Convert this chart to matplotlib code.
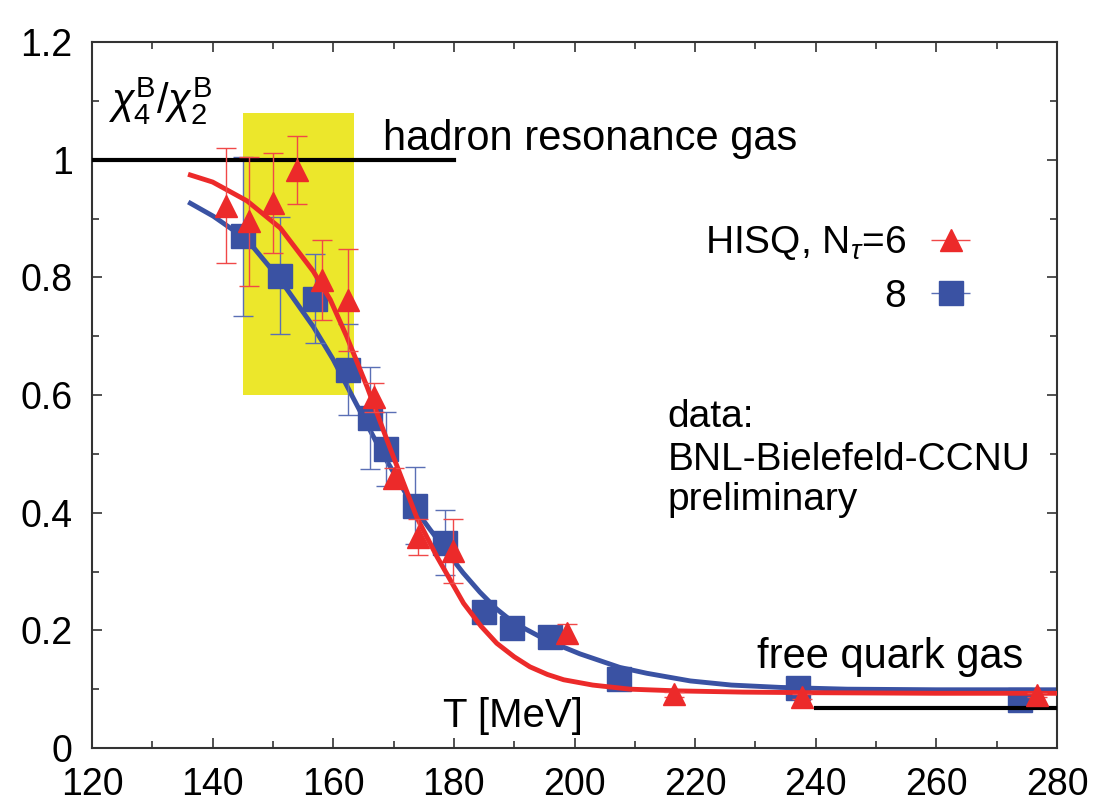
import matplotlib
matplotlib.use("Agg")
import matplotlib.pyplot as plt
import matplotlib.patches as patches

plt.rcParams['font.family'] = ['Liberation Sans', 'DejaVu Sans']
plt.rcParams['mathtext.fontset'] = 'custom'
plt.rcParams['mathtext.rm'] = 'Liberation Sans'
plt.rcParams['mathtext.it'] = 'Liberation Sans:italic'
plt.rcParams['mathtext.bf'] = 'Liberation Sans:bold'

# HISQ, N_tau = 6 (red triangles)
t6 = [142.2, 146.0, 150.0, 153.9, 158.2, 162.5, 166.7, 170.1, 174.1, 179.8,
      198.7, 216.5, 237.7, 276.7]
r6 = [0.922, 0.895, 0.927, 0.983, 0.796, 0.762, 0.596, 0.459, 0.359, 0.335,
      0.195, 0.091, 0.087, 0.090]
e6 = [0.098, 0.110, 0.085, 0.058, 0.068, 0.087, 0.025, 0.017, 0.031, 0.055,
      0.015, 0.004, 0.004, 0.004]

# N_tau = 8 (blue squares)
t8 = [145.1, 151.2, 156.9, 162.4, 166.1, 168.8, 173.6, 178.5, 185.0, 189.6,
      196.0, 207.3, 237.1, 273.9]
r8 = [0.870, 0.803, 0.764, 0.643, 0.561, 0.508, 0.412, 0.349, 0.232, 0.204,
      0.189, 0.118, 0.102, 0.082]
e8 = [0.135, 0.100, 0.075, 0.077, 0.087, 0.063, 0.065, 0.055, 0.010, 0.010,
      0.010, 0.008, 0.008, 0.008]

# fit curves
fit6_t = [136.3, 140.0, 145.7, 151.2, 156.7, 159.5, 162.2, 165.6, 169.4,
          173.8, 177.2, 181.6, 184.5, 187.1, 190.0, 192.6, 195.5, 198.2,
          203.0, 209.2, 217.5, 228.0, 239.6, 260.0, 280.0]
fit6_r = [0.974, 0.962, 0.930, 0.884, 0.810, 0.762, 0.700, 0.614, 0.510,
          0.393, 0.325, 0.246, 0.207, 0.178, 0.155, 0.138, 0.125, 0.116,
          0.107, 0.100, 0.097, 0.095, 0.094, 0.093, 0.093]
fit8_t = [136.3, 140.1, 145.7, 151.2, 156.7, 160.0, 163.3, 166.1, 167.8,
          173.3, 176.0, 178.8, 181.5, 184.3, 187.0, 189.9, 195.4, 200.9,
          207.5, 212.0, 219.2, 226.0, 234.1, 245.2, 260.0, 280.0]
fit8_r = [0.926, 0.904, 0.864, 0.796, 0.716, 0.660, 0.595, 0.540, 0.507,
          0.410, 0.372, 0.334, 0.298, 0.265, 0.237, 0.213, 0.183, 0.160,
          0.137, 0.127, 0.114, 0.107, 0.103, 0.100, 0.099, 0.099]

hrg_t = [120, 180]
hrg_r = [1.0, 1.0]
sb_t = [240, 280]
sb_r = [0.0675, 0.0675]

band_t = [145.0, 163.5]
band_r = [0.60, 1.08]

red = '#ec2a2a'
blue = '#3a52a3'
yellow = '#ece72b'

fig = plt.figure(figsize=(11.01, 8.07), dpi=100)
ax = fig.add_axes([0.0836, 0.0731, 0.8765, 0.8748])

ax.add_patch(patches.Rectangle((band_t[0], band_r[0]), band_t[1] - band_t[0],
                               band_r[1] - band_r[0], facecolor=yellow,
                               edgecolor='none', zorder=1))

err_kw = dict(elinewidth=1.0, capsize=7, capthick=1.0)

ax.plot(fit8_t, fit8_r, color=blue, lw=3.5, zorder=2)
ax.errorbar(t8, r8, yerr=e8, fmt='s', color=blue, ms=17, ecolor='#5a6fb5',
            zorder=3, **err_kw)

ax.plot(hrg_t, hrg_r, color='black', lw=3, zorder=4)
ax.plot(sb_t, sb_r, color='black', lw=3, zorder=4)

ax.plot(fit6_t, fit6_r, color=red, lw=3.5, zorder=5)
ax.errorbar(t6, r6, yerr=e6, fmt='^', color=red, ms=16, ecolor='#f04848',
            zorder=6, **err_kw)

# legend proxies with horizontal bars
h6 = ax.errorbar([], [], xerr=[], fmt='^', color=red, ms=16,
                 ecolor='#f04848', **err_kw)
h8 = ax.errorbar([], [], xerr=[], fmt='s', color=blue, ms=17,
                 ecolor='#5a6fb5', **err_kw)
ax.legend([h6, h8], [r'HISQ, N$_\tau$=6', '8'], loc='upper right',
          bbox_to_anchor=(0.92, 0.742), frameon=False, markerfirst=False,
          fontsize=28, handlelength=1.5, handletextpad=0.4,
          borderpad=0, borderaxespad=0, labelspacing=0.42)

ax.text(122.7, 1.10, r'$\chi_4^{\rm B}/\chi_2^{\rm B}$', fontsize=30,
        va='center', ha='left')
ax.text(168.3, 1.017, 'hadron resonance gas', fontsize=30, va='baseline')
ax.text(230.3, 0.136, 'free quark gas', fontsize=30, va='baseline')
ax.text(178.2, 0.036, 'T [MeV]', fontsize=29, va='baseline')
ax.text(215.4, 0.546, 'data:', fontsize=28, va='baseline')
ax.text(215.4, 0.473, 'BNL-Bielefeld-CCNU', fontsize=28, va='baseline')
ax.text(215.4, 0.405, 'preliminary', fontsize=28, va='baseline')

ax.set_xlim(120, 280)
ax.set_ylim(0, 1.2)
ax.set_xticks(range(120, 281, 20))
ax.set_xticks(range(130, 280, 20), minor=True)
ax.set_yticks([0, 0.2, 0.4, 0.6, 0.8, 1.0, 1.2])
ax.set_yticklabels(['0', '0.2', '0.4', '0.6', '0.8', '1', '1.2'])
ax.set_yticks([0.1, 0.3, 0.5, 0.7, 0.9, 1.1], minor=True)
ax.tick_params(which='both', direction='in', top=True, right=True,
               labelsize=27, width=1.2, color='#333333')
ax.tick_params(which='major', length=7, pad=14)
ax.tick_params(which='minor', length=5)
for s in ax.spines.values():
    s.set_linewidth(1.5)
    s.set_color('#333333')

fig.savefig('out.png', dpi=100)
